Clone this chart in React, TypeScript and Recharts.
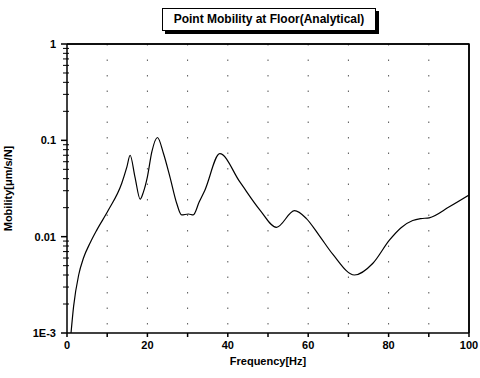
import { LineChart, Line, XAxis, YAxis, CartesianGrid, Label } from "recharts";

const freq = [
  1, 1.65, 2.9, 4.1, 5.8, 7.4, 10.3, 13.6, 14.9, 15.7, 16.9, 18.2, 19, 20, 21.1,
  22.5, 24, 25.6, 27.3, 28.5, 30.2, 31.4, 32.9, 34.3, 38, 43, 48, 52.1, 56.6,
  59.5, 62.8, 66.2, 71.5, 76.1, 80.2, 83.1, 86, 88, 90.1, 95.1, 100,
];
const mobility = [
  0.001, 0.0019, 0.004, 0.006, 0.0087, 0.0117, 0.0189, 0.0357, 0.053, 0.07,
  0.0418, 0.0245, 0.029, 0.0418, 0.0757, 0.107, 0.073, 0.0418, 0.0221, 0.0168,
  0.0172, 0.0168, 0.023, 0.0304, 0.0728, 0.037, 0.0189, 0.0125, 0.0186, 0.0155,
  0.0102, 0.0065, 0.004, 0.0053, 0.0092, 0.0124, 0.0147, 0.0154, 0.0157, 0.0204,
  0.027,
];
const xTicks = [0, 10, 20, 30, 40, 50, 60, 70, 80, 90, 100];
const yMajor = [0.001, 0.01, 0.1, 1];
const yLabels = ["1E-3", "0.01", "0.1", "1"];
const yTicks = [0.001, 0.01, 0.1].flatMap((d) =>
  [1, 2, 3, 4, 5, 6, 7, 8, 9].map((m) => +(d * m).toPrecision(3))
).concat([1]);

const data = freq.map((f, i) => ({ f, m: mobility[i] }));

const FONT = "'Liberation Sans', Arial, sans-serif";

const YTick = (props: any) => {
  const { x, y, payload } = props;
  const v = payload.value;
  const idx = yMajor.findIndex((d) => Math.abs(d - v) / d < 1e-6);
  const ax = x + 11;
  if (idx < 0) {
    return <line x1={ax - 4} x2={ax + 2} y1={y} y2={y} stroke="#000" strokeWidth={1} />;
  }
  return (
    <g>
      <line x1={ax - 6} x2={ax} y1={y} y2={y} stroke="#000" strokeWidth={1.5} />
      <text x={x} y={y} dy={4} textAnchor="end" fontSize={11} fontWeight="bold" fontFamily={FONT} fill="#000">
        {yLabels[idx]}
      </text>
    </g>
  );
};

export default function App() {
  return (
    <div style={{ position: "absolute", left: 0, top: 0, width: 480, height: 378, background: "#fff" }}>
      <div
        style={{
          position: "absolute",
          left: 162,
          top: 8,
          width: 212,
          height: 21,
          border: "1px solid #000",
          boxShadow: "3px 3px 0 #000",
          background: "#fff",
          fontFamily: FONT,
          fontWeight: "bold",
          fontSize: 12,
          lineHeight: "21px",
          textAlign: "center",
          color: "#000",
        }}
      >
        Point Mobility at Floor(Analytical)
      </div>
      <LineChart
        width={480}
        height={378}
        data={data}
        margin={{ top: 44, right: 11, left: 0, bottom: 0 }}
      >
        <CartesianGrid
          horizontal={false}
          vertical
          stroke="#555"
          strokeDasharray="1.5 14"
          verticalValues={[10, 20, 30, 40, 50, 60, 70, 80, 90]}
        />
        {/* solid frame on the top and right edges */}
        <CartesianGrid
          horizontal
          vertical
          stroke="#000"
          strokeWidth={1.5}
          horizontalValues={[1]}
          verticalValues={[100]}
        />
        <XAxis
          dataKey="f"
          type="number"
          domain={[0, 100]}
          ticks={xTicks}
          tickFormatter={(v: number) => (v % 20 === 0 ? `${v}` : "")}
          height={45}
          tickSize={4}
          tickMargin={4}
          stroke="#000"
          strokeWidth={1.5}
          tick={{ fontSize: 11, fontWeight: "bold", fontFamily: FONT, fill: "#000" }}
          allowDataOverflow
        >
          <Label
            value="Frequency[Hz]"
            position="insideBottom"
            offset={13}
            style={{ fontSize: 11, fontWeight: "bold", fontFamily: FONT, fill: "#000" }}
          />
        </XAxis>
        <YAxis
          dataKey="m"
          scale="log"
          domain={[0.001, 1]}
          ticks={yTicks}
          width={67}
          tickSize={6}
          tickMargin={5}
          tickLine={false}
          tick={<YTick />}
          stroke="#000"
          strokeWidth={1.5}
          interval={0}
          allowDataOverflow
        >
          <Label
            value="Mobility[μm/s/N]"
            angle={-90}
            position="insideLeft"
            offset={8}
            style={{ textAnchor: "middle", fontSize: 11, fontWeight: "bold", fontFamily: FONT, fill: "#000" }}
          />
        </YAxis>
        <Line
          type="monotone"
          dataKey="m"
          stroke="#000"
          strokeWidth={1.2}
          dot={false}
          isAnimationActive={false}
        />
      </LineChart>
      <svg
        width={480}
        height={378}
        style={{ position: "absolute", left: 0, top: 0, zIndex: 5, pointerEvents: "none" }}
      >
        <polyline points="67,44 469,44 469,333" fill="none" stroke="#000" strokeWidth={1.5} />
      </svg>
    </div>
  );
}
